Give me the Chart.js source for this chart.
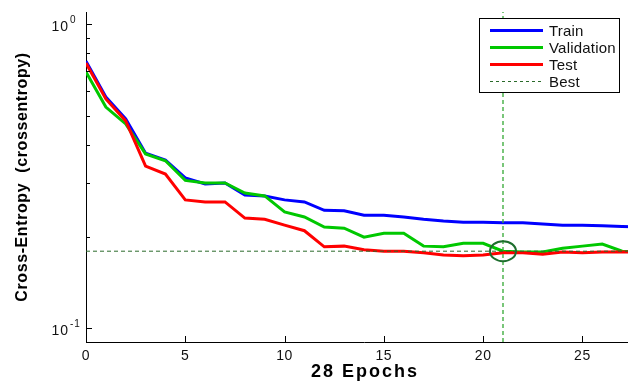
<!DOCTYPE html>
<html><head><meta charset="utf-8">
<script src="https://cdn.jsdelivr.net/npm/chart.js@4.4.1/dist/chart.umd.min.js"></script>
<style>
html,body{margin:0;padding:0;background:#fff;overflow:hidden;width:628px;height:382px}
#wrap{width:642px;height:382px;position:relative}
</style>
</head><body><div id="wrap"><canvas id="c" width="642" height="382"></canvas></div>
<script>
const epochs = [0,1,2,3,4,5,6,7,8,9,10,11,12,13,14,15,16,17,18,19,20,21,22,23,24,25,26,27,28];
const train = [0.755,0.575,0.487,0.376,0.357,0.312,0.298,0.300,0.274,0.272,0.264,0.260,0.244,0.243,0.235,0.235,0.232,0.228,0.225,0.223,0.223,0.222,0.222,0.220,0.218,0.218,0.217,0.216,0.215];
const validation = [0.695,0.533,0.469,0.374,0.355,0.306,0.300,0.300,0.278,0.272,0.241,0.232,0.215,0.213,0.199,0.205,0.205,0.186,0.185,0.190,0.190,0.179,0.178,0.178,0.183,0.186,0.189,0.179,0.178];
const test = [0.744,0.567,0.480,0.341,0.321,0.264,0.260,0.260,0.230,0.228,0.218,0.209,0.185,0.186,0.181,0.179,0.179,0.177,0.174,0.173,0.174,0.177,0.177,0.175,0.178,0.177,0.178,0.178,0.178];
const bestEpoch = 21;
const bestValue = validation[bestEpoch];
const xTicks = [0,5,10,15,20,25];
const yMajorTicks = [0.1, 1];
const yMajorExp = ['-1', '0'];
const yMinorTicks = [0.2,0.3,0.4,0.5,0.6,0.7,0.8,0.9];
const legendLabels = ['Train','Validation','Test','Best'];
const xTitle = '28 Epochs';
const yTitle = 'Cross-Entropy  (crossentropy)';
const xMin = 0, xMax = 28, yMin = 0.09, yMax = 1.095;
const FONT = '"Liberation Sans", Arial, Helvetica, sans-serif';

const pts = arr => epochs.map((e,i)=>({x:e, y:arr[i]}));

const overlay = {
  id:'overlay',
  beforeDraw(chart){
    chart.ctx.letterSpacing = '0.6px';
  },
  afterDatasetsDraw(chart){
    const {ctx, chartArea:a, scales:{x,y}} = chart;
    ctx.save();
    // best circle
    ctx.strokeStyle = '#1e6e2e'; ctx.lineWidth = 2;
    ctx.beginPath();
    ctx.ellipse(x.getPixelForValue(bestEpoch), y.getPixelForValue(bestValue), 13, 10, 0, 0, Math.PI*2);
    ctx.stroke();
    // inward ticks
    ctx.strokeStyle = '#000'; ctx.lineWidth = 1;
    const seg=(x1,y1,x2,y2)=>{ctx.beginPath();ctx.moveTo(x1,y1);ctx.lineTo(x2,y2);ctx.stroke();};
    yMajorTicks.forEach(v=>{const py=Math.round(y.getPixelForValue(v))+0.5; seg(a.left,py,a.left+6,py);});
    yMinorTicks.forEach(v=>{const py=Math.round(y.getPixelForValue(v))+0.5; seg(a.left,py,a.left+4,py);});
    xTicks.forEach(v=>{const px=Math.round(x.getPixelForValue(v))+0.5; seg(px,a.bottom,px,a.bottom-6);});
    // y tick labels with superscripts
    ctx.fillStyle = '#111';
    ctx.textBaseline = 'alphabetic';
    ctx.letterSpacing = '1px';
    yMajorTicks.forEach((v,i)=>{
      const py = y.getPixelForValue(v);
      ctx.font = '14px ' + FONT; ctx.textAlign = 'right';
      ctx.fillText('10', 69, py+7);
      ctx.font = '10px ' + FONT; ctx.textAlign = 'left';
      ctx.fillText(yMajorExp[i], 70, py-1);
    });
    // x title
    ctx.letterSpacing = '2px';
    ctx.fillStyle = '#000';
    ctx.font = 'bold 18px ' + FONT; ctx.textAlign = 'center'; ctx.textBaseline = 'middle';
    ctx.fillText(xTitle, (a.left + a.right)/2 + 1, 372);
    ctx.restore();
  },
  afterDraw(chart){
    const {ctx} = chart;
    ctx.save();
    ctx.letterSpacing = '0.2px';
    const bx=479.5, by=18.5, bw=140, bh=74;
    ctx.fillStyle='#fff'; ctx.fillRect(bx,by,bw,bh);
    ctx.strokeStyle='#000'; ctx.lineWidth=1; ctx.strokeRect(bx,by,bw,bh);
    const colors=['#0000ff','#00c800','#ff0000','#2a6a2a'];
    const rows=[30,47,64,81];
    legendLabels.forEach((lab,i)=>{
      ctx.beginPath();
      if(i===3){ctx.setLineDash([3,3]); ctx.lineWidth=1;} else {ctx.setLineDash([]); ctx.lineWidth=3;}
      ctx.strokeStyle=colors[i];
      ctx.moveTo(490,rows[i]+0.5); ctx.lineTo(543,rows[i]+0.5); ctx.stroke();
      ctx.setLineDash([]);
      ctx.fillStyle='#111'; ctx.font='15px '+FONT; ctx.textAlign='left'; ctx.textBaseline='middle';
      ctx.fillText(lab,549,rows[i]+2);
    });
    ctx.restore();
  }
};

new Chart(document.getElementById('c'), {
  type:'line',
  data:{datasets:[
    {label:'Best', data:[{x:xMin,y:bestValue},{x:xMax,y:bestValue}], borderColor:'#2a6a2a', borderWidth:1, borderDash:[4,3], pointRadius:0, order:0},
    {label:'BestV', data:[{x:bestEpoch,y:yMin},{x:bestEpoch,y:yMax}], borderColor:'#33a833', borderWidth:1.3, borderDash:[4,3], pointRadius:0, order:0},
    {label:'Test', data:pts(test), borderColor:'#ff0000', borderWidth:3, pointRadius:0, tension:0, order:1},
    {label:'Validation', data:pts(validation), borderColor:'#00c800', borderWidth:3, pointRadius:0, tension:0, order:2},
    {label:'Train', data:pts(train), borderColor:'#0000ff', borderWidth:3, pointRadius:0, tension:0, order:3}
  ]},
  options:{
    responsive:false, animation:false, devicePixelRatio:1,
    layout:{padding:{left:0,right:0,top:12,bottom:0}},
    plugins:{legend:{display:false}, tooltip:{enabled:false}},
    scales:{
      x:{type:'linear', min:xMin, max:xMax,
        afterBuildTicks:s=>{s.ticks = xTicks.map(v=>({value:v}));},
        afterFit:s=>{s.height=40;},
        grid:{display:false, drawTicks:false},
        border:{display:true, color:'#000', width:1},
        ticks:{font:{family:FONT,size:14}, color:'#111', padding:6, maxRotation:0, autoSkip:false},
        title:{display:false}
      },
      y:{type:'logarithmic', min:yMin, max:yMax,
        afterBuildTicks:s=>{s.ticks = yMajorTicks.map(v=>({value:v}));},
        afterFit:s=>{s.width=86;},
        grid:{display:false, drawTicks:false},
        border:{display:true, color:'#000', width:1},
        ticks:{display:false},
        title:{display:true, text:yTitle, color:'#000', font:{family:FONT,size:16,weight:'bold'}, padding:{top:13,bottom:0}}
      }
    }
  },
  plugins:[overlay]
});
</script>
</body></html>
